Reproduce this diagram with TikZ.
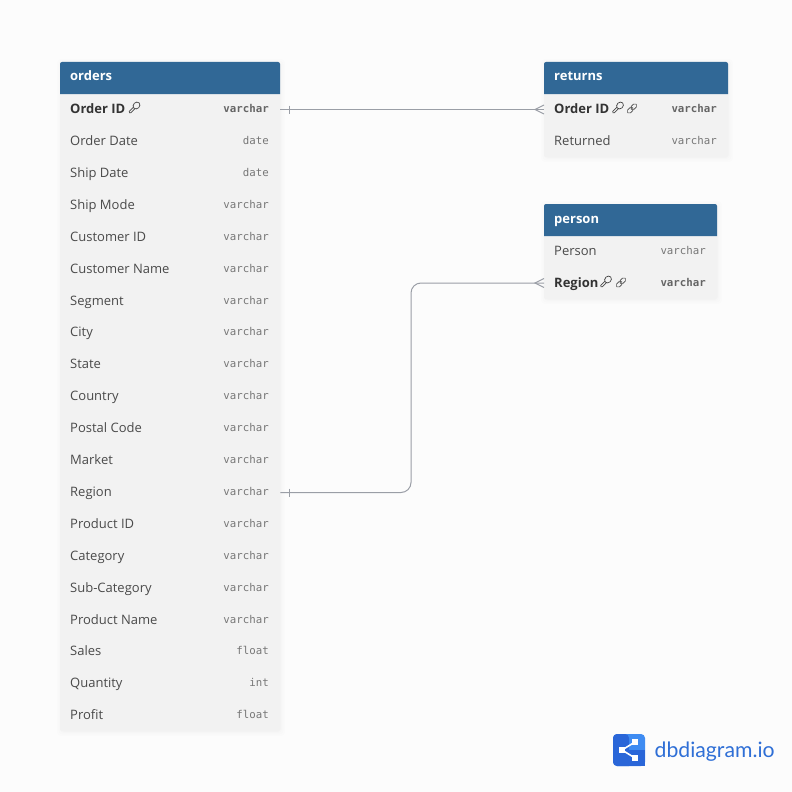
\documentclass[tikz,border=0pt]{standalone}
\usepackage{fontspec}
\setmainfont{Open Sans}
\setmonofont{DejaVu Sans Mono}
\newfontfamily\logofont{Lato}
\usetikzlibrary{calc}
\definecolor{pagebg}{HTML}{FCFCFC}
\definecolor{hdr}{HTML}{316896}
\definecolor{rowbg}{HTML}{F2F2F2}
\definecolor{linkc}{HTML}{9A9EA6}
\definecolor{namec}{HTML}{4A4A4A}
\definecolor{boldc}{HTML}{333333}
\definecolor{typec}{HTML}{777777}
\definecolor{logoa}{HTML}{2A66D8}
\definecolor{logob}{HTML}{3F8CF2}
\definecolor{logot}{HTML}{2F6FD6}
\tikzset{
  x=1pt,y=-1pt,
  fieldrow/.style={rectangle,inner sep=0pt,minimum height=32pt,anchor=west},
  fname/.style={anchor=base west,inner sep=0pt,text=namec,font=\fontsize{13}{15}\selectfont},
  fkey/.style={fname,text=boldc,font=\fontsize{13}{15}\selectfont\bfseries},
  ftype/.style={anchor=base east,inner sep=0pt,text=typec,font=\fontsize{10.75}{14}\ttfamily},
  fkeytype/.style={ftype,text=typec!85!black,font=\fontsize{10.75}{14}\ttfamily\bfseries},
  title/.style={anchor=base west,inner sep=0pt,text=white,font=\fontsize{13}{15}\selectfont\bfseries},
  relation/.style={draw=linkc,line width=1pt},
  icon/.style={draw=boldc!90!white,line width=.7pt,fill=none},
}
% card: x0,ytop,x1,ybottom
\newcommand{\tablecard}[4]{%
  \foreach \s in {5,3.5,2,1}{
    \fill[black,opacity=.009,rounded corners=4pt] (#1-\s+2,#2-\s+2) rectangle (#3+\s,#4+\s);
  }
  \fill[rowbg,rounded corners=2pt] (#1,#2) rectangle (#3,#4);
  \fill[hdr] (#1,#2+32) [rounded corners=2pt] -- (#1,#2) -- (#3,#2) [sharp corners] -- (#3,#2+32) -- cycle;
}
\newcommand{\keyicon}[2]{%
  \begin{scope}[shift={(#1,#2)},rotate=-45]
    \draw[icon] (0,0) ellipse[x radius=3.1,y radius=3.7];
    \draw[icon] (-1,3.5) -- (-1,9.2) -- (0.2,10.2) -- (1.1,9.2) -- (1.1,3.5);
  \end{scope}}
\newcommand{\linkicon}[2]{%
  \begin{scope}[shift={(#1,#2)},rotate=45]
    \draw[icon,rounded corners=1.8pt] (-6,-2) rectangle (1,2);
    \draw[icon,rounded corners=1.8pt] (-1,-2) rectangle (6,2);
  \end{scope}}
\begin{document}
\begin{tikzpicture}
\useasboundingbox (0,0) rectangle (792,792);
\fill[pagebg] (0,0) rectangle (792,792);

% ---- orders
\tablecard{60}{62}{280}{731}
\node[title] (orders-title) at (70,81) {orders};
\foreach \i/\n/\t in {1/Order ID/varchar,2/Order Date/date,3/Ship Date/date,4/Ship Mode/varchar,5/Customer ID/varchar,6/Customer Name/varchar,7/Segment/varchar,8/City/varchar,9/State/varchar,10/Country/varchar,11/Postal Code/varchar,12/Market/varchar,13/Region/varchar,14/Product ID/varchar,15/Category/varchar,16/Sub-Category/varchar,17/Product Name/varchar,18/Sales/float,19/Quantity/int,20/Profit/float}{
  \pgfmathsetmacro{\yy}{109.5+(\i-1)*32-(\i>7)-(\i>17)}
  \node[fieldrow,minimum width=220pt] (orders-\i) at (60,\yy) {};
  \ifnum\i=1
    \node[fkey] (orders-\i-name) at (70,\yy+4.2) {\n};
    \node[fkeytype] (orders-\i-type) at (269,\yy+3.4) {\t};
  \else
    \node[fname] (orders-\i-name) at (70,\yy+4.2) {\n};
    \node[ftype] (orders-\i-type) at (269,\yy+3.4) {\t};
  \fi
}
\keyicon{136.5}{105.5}

% ---- returns
\tablecard{544}{62}{728}{157}
\node[title] (returns-title) at (554,81) {returns};
\node[fieldrow,minimum width=184pt] (returns-1) at (544,109.5) {};
\node[fieldrow,minimum width=184pt] (returns-2) at (544,141) {};
\node[fkey] (returns-1-name) at (554,113.7) {Order ID};
\node[fkeytype] (returns-1-type) at (717,112.9) {varchar};
\node[fname] (returns-2-name) at (554,145.2) {Returned};
\node[ftype] (returns-2-type) at (717,144.4) {varchar};
\keyicon{620}{105.5}
\linkicon{632}{108.5}

% ---- person
\tablecard{544}{204}{717}{299}
\node[title] (person-title) at (554,223) {person};
\node[fieldrow,minimum width=173pt] (person-1) at (544,251) {};
\node[fieldrow,minimum width=173pt] (person-2) at (544,283) {};
\node[fname] (person-1-name) at (554,255.2) {Person};
\node[ftype] (person-1-type) at (706,254.4) {varchar};
\node[fkey] (person-2-name) at (554,287.2) {Region};
\node[fkeytype] (person-2-type) at (706,286.4) {varchar};
\keyicon{608}{279.5}
\linkicon{621}{282.5}

% ---- relations
\draw[relation] (orders-1.east) -- (returns-1.west);
\draw[relation] ($(orders-1.east)+(9,-4)$) -- ($(orders-1.east)+(9,4)$);
\draw[relation] ($(returns-1.west)+(0,-4.5)$) -- ($(returns-1.west)+(-9,0)$) -- ($(returns-1.west)+(0,4.5)$);

\coordinate (bend) at (411,400);
\draw[relation,rounded corners=10pt] (orders-13.east) -- (orders-13.east -| bend) -- (person-2.west -| bend) -- (person-2.west);
\draw[relation] ($(orders-13.east)+(9,-4)$) -- ($(orders-13.east)+(9,4)$);
\draw[relation] ($(person-2.west)+(0,-4.5)$) -- ($(person-2.west)+(-9,0)$) -- ($(person-2.west)+(0,4.5)$);

% ---- logo
\fill[logob,rounded corners=4pt] (613,734) rectangle (645,766);
\fill[logoa,rounded corners=4pt] (613,734) -- (629,734) [sharp corners] -- (629,766) [rounded corners=4pt] -- (613,766) -- cycle;
\fill[logoa] (629,750) rectangle (645,766);
\draw[white,line width=1.6pt] (622,750) -- (635,742) (622,750) -- (635,758);
\fill[white] (619,747) rectangle (625,753);
\fill[white] (632,739) rectangle (638,745);
\fill[white] (632,755) rectangle (638,761);
\node[anchor=base west,inner sep=0pt,text=logot,font=\fontsize{21.2}{24}\logofont] (logo-text) at (654.5,757) {dbdiagram.io};
\end{tikzpicture}
\end{document}
